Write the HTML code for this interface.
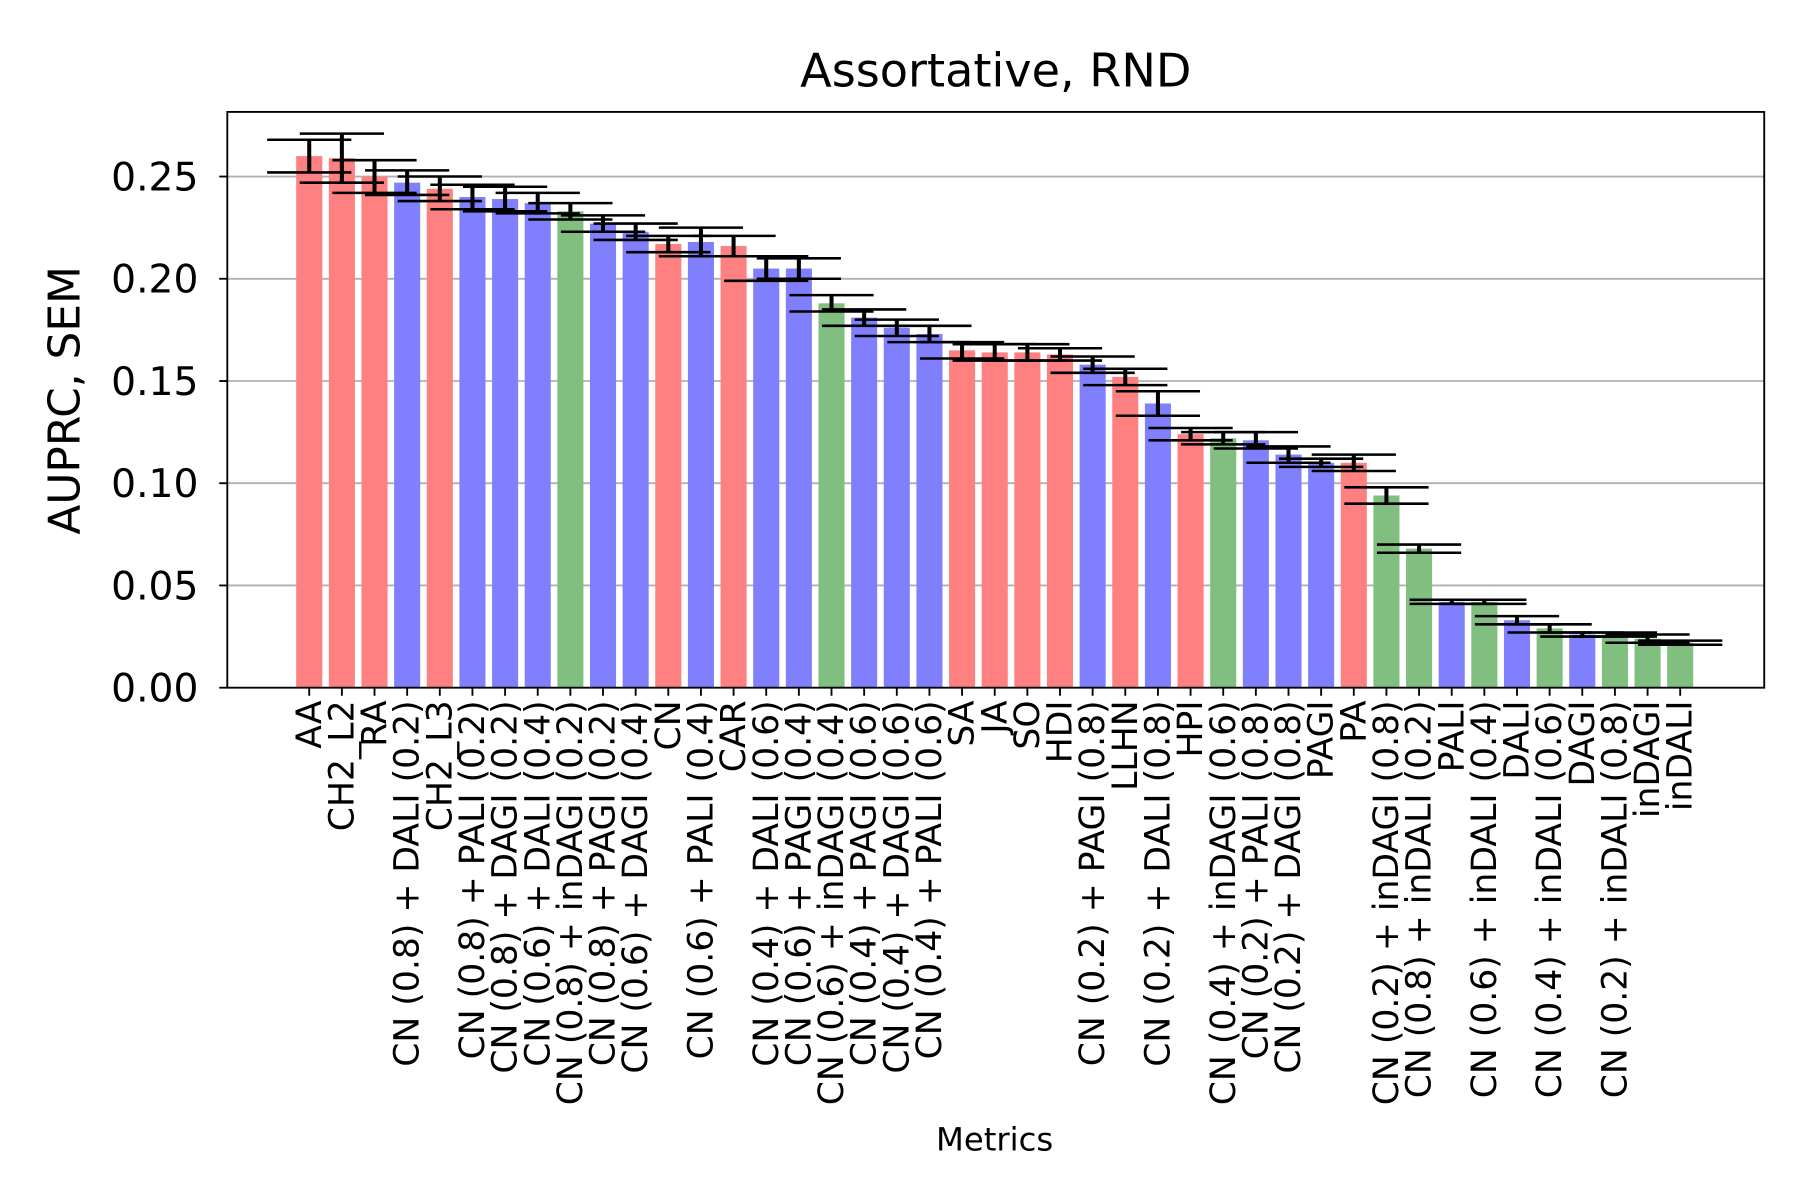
<!DOCTYPE html>
<html><head><meta charset="utf-8"><style>body{margin:0;background:#fff}svg{display:block;font-family:"DejaVu Sans","Liberation Sans",sans-serif}</style></head>
<body>
<svg id="chart" width="1800" height="1200" viewBox="0 0 1560 1040" xmlns="http://www.w3.org/2000/svg">
<rect width="1560" height="1040" fill="#fff"/>
<text x="863" y="75" font-size="40" text-anchor="middle">Assortative, RND</text>
<g id="grid"></g><g id="bars"></g><g id="errs"></g><g id="yticks"></g><g id="xticks"></g>
<rect x="197" y="97" width="1332" height="499" fill="none" stroke="#000" stroke-width="1.6"/>
<text transform="translate(69,347) rotate(-90)" font-size="38" text-anchor="middle">AUPRC, SEM</text>
<text x="862" y="997" font-size="28" text-anchor="middle">Metrics</text>
</svg>
<script>
const categories=["AA","CH2_L2","RA","CN (0.8) + DALI (0.2)","CH2_L3","CN (0.8) + PALI (0.2)","CN (0.8) + DAGI (0.2)","CN (0.6) + DALI (0.4)","CN (0.8) + inDAGI (0.2)","CN (0.8) + PAGI (0.2)","CN (0.6) + DAGI (0.4)","CN","CN (0.6) + PALI (0.4)","CAR","CN (0.4) + DALI (0.6)","CN (0.6) + PAGI (0.4)","CN (0.6) + inDAGI (0.4)","CN (0.4) + PAGI (0.6)","CN (0.4) + DAGI (0.6)","CN (0.4) + PALI (0.6)","SA","JA","SO","HDI","CN (0.2) + PAGI (0.8)","LLHN","CN (0.2) + DALI (0.8)","HPI","CN (0.4) + inDAGI (0.6)","CN (0.2) + PALI (0.8)","CN (0.2) + DAGI (0.8)","PAGI","PA","CN (0.2) + inDAGI (0.8)","CN (0.8) + inDALI (0.2)","PALI","CN (0.6) + inDALI (0.4)","DALI","CN (0.4) + inDALI (0.6)","DAGI","CN (0.2) + inDALI (0.8)","inDAGI","inDALI"];
const values=[0.260,0.259,0.250,0.247,0.244,0.240,0.239,0.237,0.233,0.227,0.223,0.217,0.218,0.216,0.205,0.205,0.188,0.181,0.176,0.173,0.165,0.164,0.164,0.163,0.158,0.152,0.139,0.124,0.122,0.121,0.114,0.110,0.110,0.094,0.068,0.042,0.042,0.033,0.029,0.026,0.026,0.024,0.022];
const errors=[0.008,0.012,0.008,0.006,0.006,0.006,0.006,0.005,0.004,0.004,0.004,0.004,0.007,0.005,0.006,0.005,0.004,0.004,0.004,0.004,0.004,0.004,0.004,0.003,0.004,0.004,0.006,0.003,0.003,0.004,0.004,0.002,0.004,0.004,0.002,0.001,0.001,0.002,0.002,0.001,0.001,0.002,0.001];
const groups=["r","r","r","b","r","b","b","b","g","b","b","r","b","r","b","b","g","b","b","b","r","r","r","r","b","r","b","r","g","b","b","b","r","g","g","b","g","b","g","b","g","g","g"];
const yTicks=[0,0.05,0.10,0.15,0.20,0.25];
const colors={r:"#ff8080",b:"#8080ff",g:"#80bf80"};
const NS="http://www.w3.org/2000/svg";
const y=v=>596-v/0.05*88.6;
const x=i=>268+i*28.29;
function mk(tag,attrs,parent,txt){const e=document.createElementNS(NS,tag);for(const k in attrs)e.setAttribute(k,attrs[k]);if(txt!==undefined)e.textContent=txt;document.getElementById(parent).appendChild(e);return e;}
yTicks.forEach(t=>{
  if(t>0){const g=mk("line",{x1:197,x2:1529,y1:y(t),y2:y(t),stroke:"#b0b0b0","stroke-width":1.6},"grid");
  
  }
  const tk=mk("line",{x1:190,x2:197,y1:y(t),y2:y(t),stroke:"#000","stroke-width":1.6},"yticks");
  
  
  const l=mk("text",{x:172,y:y(t)+12,"font-size":34,"text-anchor":"end"},"yticks",t.toFixed(2));
  
  
});
categories.forEach((c,i)=>{
  const v=values[i],e=errors[i],cx=x(i);
  const b=mk("rect",{x:cx-11.3,y:y(v),width:22.6,height:596-y(v),fill:colors[groups[i]]},"bars");
  
  
  const eg=mk("g",{stroke:"#000","stroke-width":2.2},"errs");
  
  
  [["line",{x1:cx,x2:cx,y1:y(v+e),y2:y(v-e),"stroke-width":3.5}],["line",{x1:cx-36.5,x2:cx+36.5,y1:y(v+e),y2:y(v+e)}],["line",{x1:cx-36.5,x2:cx+36.5,y1:y(v-e),y2:y(v-e)}]].forEach(([t,a])=>{const l=document.createElementNS(NS,t);for(const k in a)l.setAttribute(k,a[k]);eg.appendChild(l);});
  const tk=mk("line",{x1:cx,x2:cx,y1:596,y2:603,stroke:"#000","stroke-width":1.6},"xticks");
  
  
  const lb=mk("text",{transform:`translate(${cx+10},607) rotate(-90)`,"font-size":30,"text-anchor":"end"},"xticks",c);
  
  
});
</script>
</body></html>
